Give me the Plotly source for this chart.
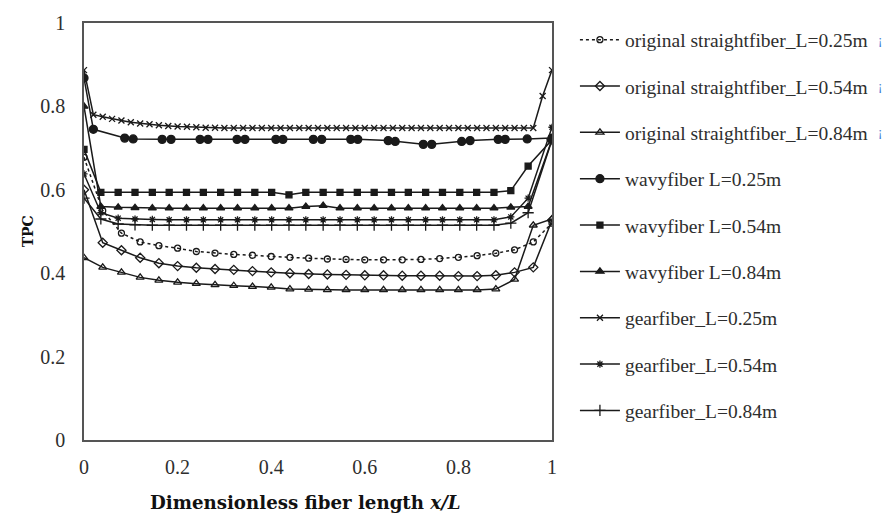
import plotly.graph_objects as go

# Dimensionless position along the fibre
X_STRAIGHT = [0.00, 0.04, 0.08, 0.12, 0.16, 0.20, 0.24, 0.28, 0.32, 0.36, 0.40, 0.44, 0.48,
              0.52, 0.56, 0.60, 0.64, 0.68, 0.72, 0.76, 0.80, 0.84, 0.88, 0.92, 0.96, 1.00]
X_MID = [0.000, 0.036, 0.073, 0.109, 0.146, 0.182, 0.219, 0.255, 0.292, 0.328, 0.365, 0.401,
         0.438, 0.474, 0.511, 0.547, 0.584, 0.620, 0.657, 0.693, 0.730, 0.766, 0.803, 0.839,
         0.876, 0.912, 0.949, 1.000]
X_GEAR25 = [0.00, 0.02, 0.04, 0.06, 0.08, 0.10, 0.12, 0.14, 0.16, 0.18, 0.20, 0.22, 0.24,
            0.26, 0.28, 0.30, 0.32, 0.34, 0.36, 0.38, 0.40, 0.42, 0.44, 0.46, 0.48, 0.50,
            0.52, 0.54, 0.56, 0.58, 0.60, 0.62, 0.64, 0.66, 0.68, 0.70, 0.72, 0.74, 0.76,
            0.78, 0.80, 0.82, 0.84, 0.86, 0.88, 0.90, 0.92, 0.94, 0.96, 0.98, 1.00]
X_WAVY25 = [0.000, 0.020, 0.087, 0.105, 0.167, 0.186, 0.248, 0.265, 0.327, 0.344, 0.410,
            0.425, 0.490, 0.508, 0.570, 0.585, 0.650, 0.665, 0.725, 0.743, 0.807, 0.825,
            0.885, 0.900, 0.947, 1.000]

# TPC along the fibre for each fibre shape and length
STRAIGHT_025 = [0.678, 0.550, 0.496, 0.475, 0.466, 0.460, 0.452, 0.448, 0.445, 0.443, 0.440,
                0.438, 0.436, 0.434, 0.433, 0.432, 0.432, 0.432, 0.433, 0.435, 0.438, 0.442,
                0.448, 0.456, 0.475, 0.520]
STRAIGHT_054 = [0.600, 0.473, 0.455, 0.437, 0.424, 0.417, 0.413, 0.410, 0.408, 0.405, 0.402,
                0.400, 0.398, 0.397, 0.396, 0.395, 0.395, 0.394, 0.394, 0.394, 0.393, 0.393,
                0.395, 0.402, 0.414, 0.527]
STRAIGHT_084 = [0.437, 0.414, 0.402, 0.390, 0.383, 0.378, 0.375, 0.372, 0.370, 0.368, 0.366,
                0.362, 0.361, 0.360, 0.360, 0.360, 0.360, 0.360, 0.360, 0.360, 0.360, 0.360,
                0.362, 0.385, 0.515, 0.530]
WAVY_025 = [0.868, 0.745, 0.724, 0.722, 0.721, 0.721, 0.721, 0.721, 0.721, 0.721, 0.721,
            0.721, 0.721, 0.721, 0.721, 0.721, 0.718, 0.716, 0.709, 0.709, 0.716, 0.718,
            0.721, 0.721, 0.722, 0.724]
WAVY_054 = [0.697, 0.594, 0.594, 0.594, 0.594, 0.594, 0.594, 0.594, 0.594, 0.594, 0.594,
            0.594, 0.588, 0.594, 0.594, 0.594, 0.594, 0.594, 0.594, 0.594, 0.594, 0.594,
            0.594, 0.594, 0.594, 0.598, 0.657, 0.720]
WAVY_084 = [0.800, 0.560, 0.558, 0.557, 0.556, 0.556, 0.556, 0.556, 0.556, 0.556, 0.556,
            0.556, 0.556, 0.560, 0.562, 0.556, 0.556, 0.556, 0.556, 0.556, 0.556, 0.556,
            0.556, 0.556, 0.556, 0.558, 0.560, 0.720]
GEAR_025 = [0.887, 0.780, 0.775, 0.770, 0.766, 0.762, 0.759, 0.757, 0.755, 0.753, 0.752,
            0.751, 0.750, 0.749, 0.749, 0.748, 0.748, 0.748, 0.748, 0.748, 0.748, 0.748,
            0.748, 0.748, 0.748, 0.748, 0.748, 0.748, 0.748, 0.748, 0.748, 0.748, 0.748,
            0.748, 0.748, 0.748, 0.748, 0.748, 0.748, 0.748, 0.748, 0.748, 0.748, 0.748,
            0.748, 0.748, 0.748, 0.748, 0.748, 0.825, 0.887]
GEAR_054 = [0.638, 0.545, 0.532, 0.530, 0.529, 0.528, 0.528, 0.528, 0.528, 0.528, 0.528,
            0.528, 0.528, 0.528, 0.528, 0.528, 0.528, 0.528, 0.528, 0.528, 0.528, 0.528,
            0.528, 0.528, 0.528, 0.535, 0.580, 0.750]
GEAR_084 = [0.580, 0.530, 0.518, 0.516, 0.515, 0.515, 0.515, 0.515, 0.515, 0.515, 0.515,
            0.515, 0.515, 0.515, 0.515, 0.515, 0.515, 0.515, 0.515, 0.515, 0.515, 0.515,
            0.515, 0.515, 0.515, 0.520, 0.545, 0.720]

NAMES = [
    "original straightfiber_L=0.25m",
    "original straightfiber_L=0.54m",
    "original straightfiber_L=0.84m",
    "wavyfiber L=0.25m",
    "wavyfiber L=0.54m",
    "wavyfiber L=0.84m",
    "gearfiber_L=0.25m",
    "gearfiber_L=0.54m",
    "gearfiber_L=0.84m",
]
X_TICKS = [0, 0.2, 0.4, 0.6, 0.8, 1]
X_TICK_TEXT = ["0", "0.2", "0.4", "0.6", "0.8", "1"]
Y_TICKS = [0, 0.2, 0.4, 0.6, 0.8, 1]
Y_TICK_TEXT = ["0", "0.2", "0.4", "0.6", "0.8", "1"]

SERIES = [
    (X_STRAIGHT, STRAIGHT_025, "circle-open", 6, "dot"),
    (X_STRAIGHT, STRAIGHT_054, "diamond-open", 7, "solid"),
    (X_STRAIGHT, STRAIGHT_084, "triangle-up-open", 7, "solid"),
    (X_WAVY25, WAVY_025, "circle", 8, "solid"),
    (X_MID, WAVY_054, "square", 6, "solid"),
    (X_MID, WAVY_084, "triangle-up", 7, "solid"),
    (X_GEAR25, GEAR_025, "x-thin-open", 6, "solid"),
    (X_MID, GEAR_054, "asterisk-open", 6, "solid"),
    (X_MID, GEAR_084, "cross-thin-open", 8, "solid"),
]

SERIF = "Liberation Serif"
SERIF_BOLD = "DejaVu Serif"
INK = "#1a1a1a"
TEXT = "#2e2e2e"

fig = go.Figure()
for i, (xs, ys, sym, size, dash) in enumerate(SERIES):
    fig.add_trace(go.Scatter(
        x=xs, y=ys, name=NAMES[i], mode="lines+markers",
        legendgroup=f"g{i}",
        line=dict(color=INK, width=1.5, dash=dash),
        marker=dict(symbol=sym, size=size, color=INK,
                    line=dict(color=INK, width=1.3)),
    ))

# small blue marks trailing the first three legend entries
for yy in [0.961, 0.850, 0.739]:
    fig.add_annotation(x=1.70, y=yy, xref="paper", yref="paper", text="¡",
                       showarrow=False, xanchor="center", yanchor="middle",
                       font=dict(family=SERIF, size=13, color="#3d7ad6"))

# axis titles
fig.add_annotation(x=-0.12, y=0.5, xref="paper", yref="paper", text="<b>TPC</b>",
                   textangle=-90, showarrow=False, xanchor="center", yanchor="middle",
                   font=dict(family=SERIF_BOLD, size=14, color="#111111"))
fig.add_annotation(x=0.474, y=-0.149, xref="paper", yref="paper",
                   text="<b>Dimensionless fiber length <i>x/L</i></b>", showarrow=False,
                   xanchor="center", yanchor="middle",
                   font=dict(family=SERIF_BOLD, size=18.2, color="#111111"))

fig.update_layout(
    width=885, height=517,
    margin=dict(l=84, r=333, t=17, b=77),
    paper_bgcolor="white", plot_bgcolor="white",
    font=dict(family=SERIF, color=TEXT, size=19),
    showlegend=True,
    legend=dict(x=1.049, y=1.006, xanchor="left", yanchor="top",
                font=dict(family=SERIF, size=19.5, color=TEXT),
                tracegroupgap=18, itemwidth=40, maxheight=517,
                bgcolor="rgba(0,0,0,0)"),
    xaxis=dict(range=[0, 1], tickvals=X_TICKS, ticktext=X_TICK_TEXT,
               showgrid=False, zeroline=False, showline=True, mirror=True,
               linecolor="#555555", linewidth=1.5, ticks="", ticklabelstandoff=8,
               tickfont=dict(family=SERIF, size=20, color=TEXT)),
    yaxis=dict(range=[0, 1], tickvals=Y_TICKS, ticktext=Y_TICK_TEXT,
               showgrid=False, zeroline=False, showline=True, mirror=True,
               linecolor="#555555", linewidth=1.5, ticks="", ticklabelstandoff=13,
               tickfont=dict(family=SERIF, size=20, color=TEXT)),
)

fig.write_html("out.html")
